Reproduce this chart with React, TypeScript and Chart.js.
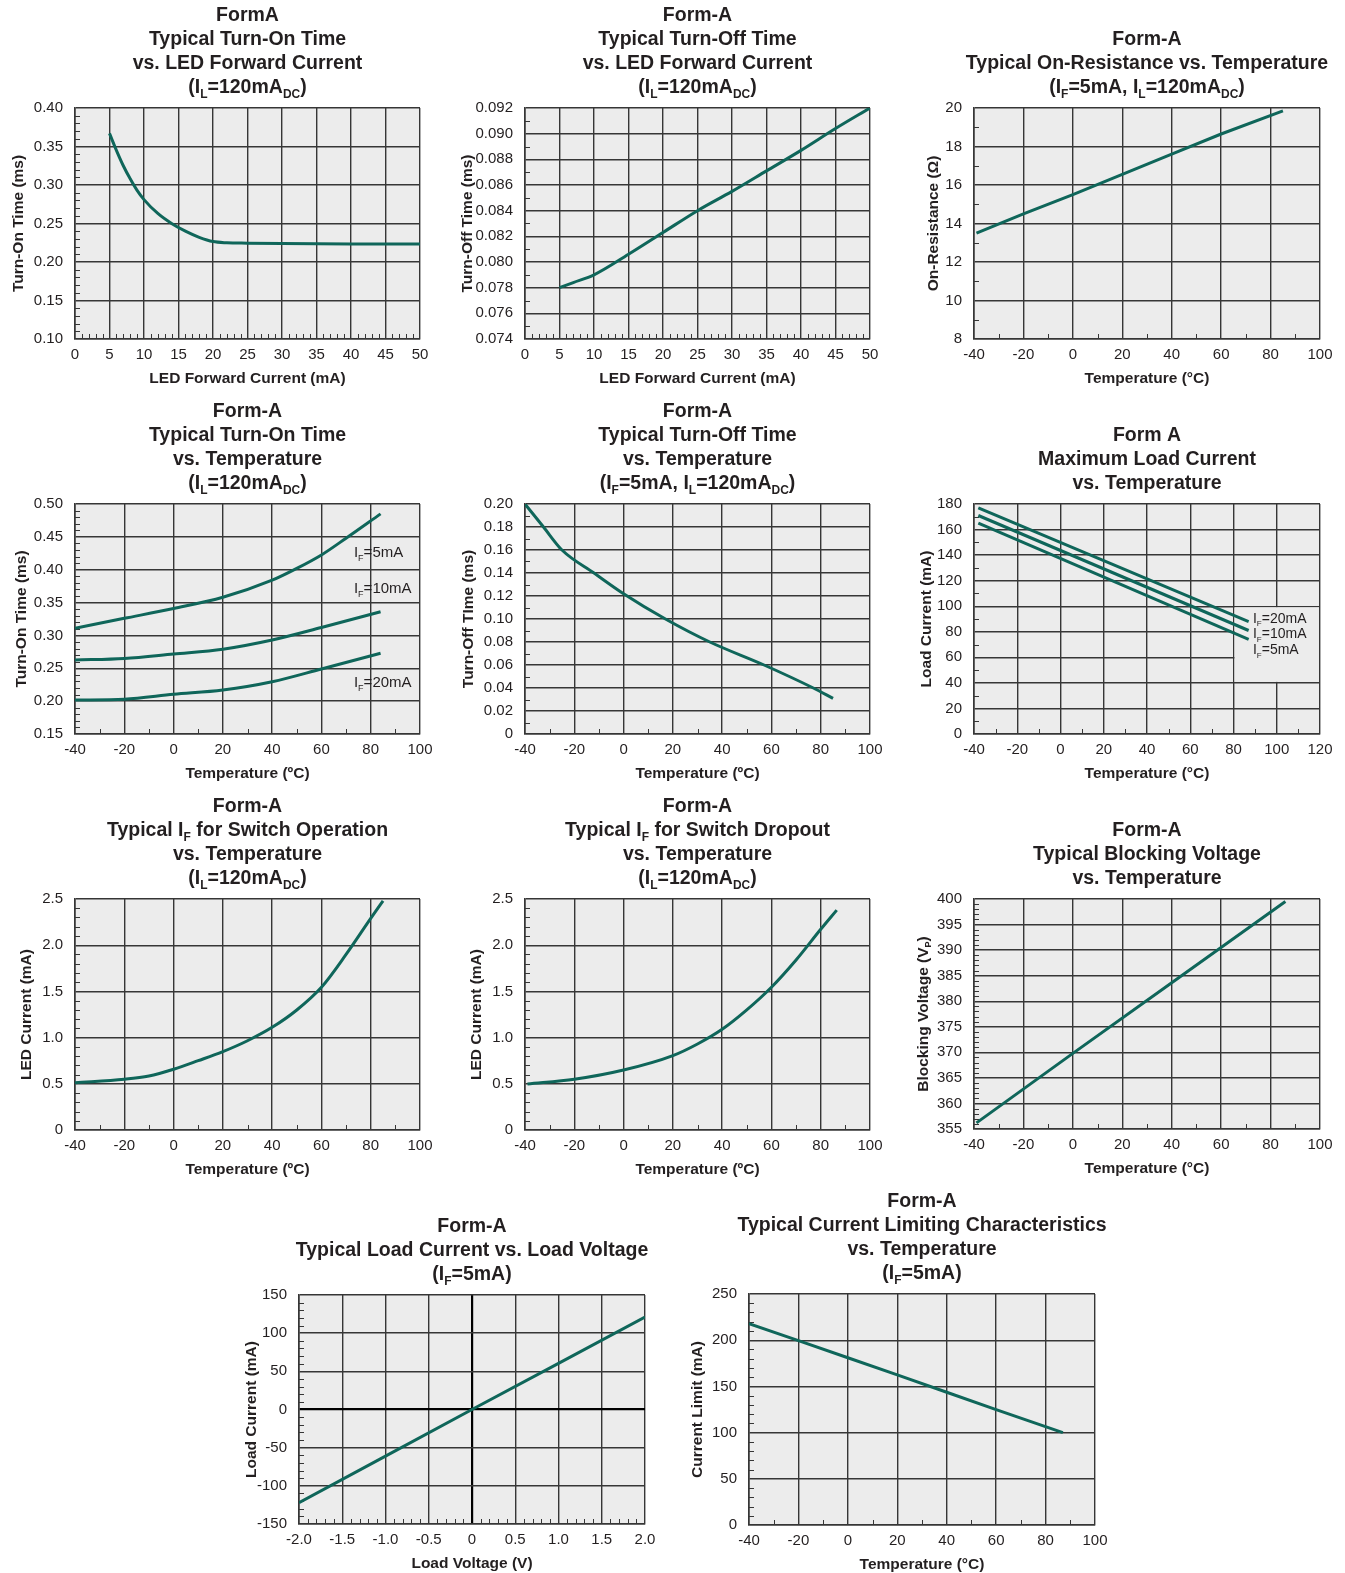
import React, { useEffect, useRef } from 'react';
import { Chart, registerables } from 'chart.js';

Chart.register(...registerables);

// ===================== DATA =====================
// 1. Turn-On Time vs LED Forward Current
const ifCurrent1_mA = [5, 6, 7, 8, 9, 10, 12, 14, 16, 18, 20, 22, 25, 30, 35, 40, 45, 50];
const turnOnVsIf_ms = [0.367, 0.345, 0.325, 0.308, 0.293, 0.281, 0.263, 0.25, 0.24, 0.232, 0.2265, 0.225, 0.2245, 0.224, 0.2237, 0.2235, 0.2234, 0.2233];
const c1XTicks = ['0', '5', '10', '15', '20', '25', '30', '35', '40', '45', '50'];
const c1YTicks = ['0.10', '0.15', '0.20', '0.25', '0.30', '0.35', '0.40'];

// 2. Turn-Off Time vs LED Forward Current
const ifCurrent2_mA = [5, 7, 10, 15, 20, 25, 30, 35, 40, 45, 50];
const turnOffVsIf_ms = [0.078, 0.0784, 0.079, 0.0806, 0.0823, 0.084, 0.0855, 0.0871, 0.0887, 0.0904, 0.092];
const c2XTicks = ['0', '5', '10', '15', '20', '25', '30', '35', '40', '45', '50'];
const c2YTicks = ['0.074', '0.076', '0.078', '0.080', '0.082', '0.084', '0.086', '0.088', '0.090', '0.092'];

// 3. On-Resistance vs Temperature
const temp3_C = [-39, -20, 0, 20, 40, 60, 85];
const onResistance_ohm = [13.5, 14.5, 15.5, 16.55, 17.6, 18.65, 19.85];
const tempTicks = ['-40', '-20', '0', '20', '40', '60', '80', '100'];
const c3YTicks = ['8', '10', '12', '14', '16', '18', '20'];

// 4. Turn-On Time vs Temperature
const temp4a_C = [-40, -20, 0, 20, 40, 50, 60, 70, 84];
const turnOn_5mA = [0.311, 0.326, 0.341, 0.358, 0.384, 0.402, 0.4225, 0.448, 0.485];
const temp4b_C = [-40, -20, 0, 20, 40, 60, 84];
const turnOn_10mA = [0.2626, 0.265, 0.2718, 0.279, 0.293, 0.312, 0.336];
const turnOn_20mA = [0.2017, 0.203, 0.2104, 0.217, 0.2296, 0.249, 0.2728];
const c4YTicks = ['0.15', '0.20', '0.25', '0.30', '0.35', '0.40', '0.45', '0.50'];

// 5. Turn-Off Time vs Temperature
const temp5_C = [-40, -32.5, -25, -12, 0, 17, 35, 57, 77, 85];
const turnOffVsT_ms = [0.2, 0.18, 0.16, 0.14, 0.122, 0.1, 0.08, 0.06, 0.04, 0.031];
const c5YTicks = ['0', '0.02', '0.04', '0.06', '0.08', '0.10', '0.12', '0.14', '0.16', '0.18', '0.20'];

// 6. Maximum Load Current vs Temperature
const temp6_C = [-38, 87];
const maxLoad_20mA = [177, 88];
const maxLoad_10mA = [171, 81];
const maxLoad_5mA = [165, 74];
const c6XTicks = ['-40', '-20', '0', '20', '40', '60', '80', '100', '120'];
const c6YTicks = ['0', '20', '40', '60', '80', '100', '120', '140', '160', '180'];

// 7. IF for Switch Operation vs Temperature
const temp7_C = [-40, -20, -10, 0, 10, 20, 30, 40, 50, 60, 70, 80, 85];
const ifOperate_mA = [0.512, 0.549, 0.584, 0.657, 0.75, 0.848, 0.966, 1.111, 1.299, 1.545, 1.9, 2.29, 2.48];
const ledTicks = ['0', '0.5', '1.0', '1.5', '2.0', '2.5'];

// 8. IF for Switch Dropout vs Temperature
const temp8_C = [-39, -20, 0, 20, 30, 40, 50, 60, 70, 80, 86.5];
const ifDropout_mA = [0.498, 0.549, 0.649, 0.805, 0.931, 1.09, 1.3, 1.545, 1.84, 2.172, 2.38];

// 9. Blocking Voltage vs Temperature
const temp9_C = [-39, 0, 40, 86];
const blocking_V = [356.2, 369.8, 383.6, 399.5];
const c9YTicks = ['355', '360', '365', '370', '375', '380', '385', '390', '395', '400'];

// 10. Load Current vs Load Voltage
const loadVoltage_V = [-2, -1, 0, 1, 2];
const loadCurrent_mA = [-122, -61, 0, 60.5, 121];
const c10XTicks = ['-2.0', '-1.5', '-1.0', '-0.5', '0', '0.5', '1.0', '1.5', '2.0'];
const c10YTicks = ['-150', '-100', '-50', '0', '50', '100', '150'];

// 11. Current Limit vs Temperature
const temp11_C = [-40, -20, 0, 20, 40, 60, 87];
const currentLimit_mA = [218, 199.5, 181, 162.5, 143.7, 124.8, 100];
const c11YTicks = ['0', '50', '100', '150', '200', '250'];

// ===================== STYLE =====================
const INK = '#231f20';
const GRID = '#363636';
const BG = '#ececec';
const LINE = '#0f665a';
const FONT = "'Liberation Sans', Arial, Helvetica, sans-serif";
const NARROW = "'Liberation Sans Narrow', 'Arial Narrow', 'Liberation Sans', Arial, sans-serif";
const Y_SPACE = 74;
const TOP_SPACE = 108;
const RIGHT_SPACE = 28;
const X_SPACE = 50;

type Series = { x: number[]; y: number[]; smooth: boolean };
type Label = { text: string; x: number; y: number; size: number };
type Spec = {
  plot: [number, number, number, number];
  title: string[];
  xTitle: string;
  yTitle: string;
  yOff: number;
  xTicks: string[];
  yTicks: string[];
  minor: [number, number];
  series: Series[];
  labels?: Label[];
  blank?: { x0: number; y0: number; y1: number };
  zero?: boolean;
};

const SPECS: Spec[] = [
  {
    plot: [75, 108, 420, 339],
    title: ['FormA', 'Typical Turn-On Time', 'vs. LED Forward Current', '(I_{L}=120mA_{DC})'],
    xTitle: 'LED Forward Current (mA)', yTitle: 'Turn-On Time (ms)', yOff: 57.5,
    xTicks: c1XTicks, yTicks: c1YTicks, minor: [5, 5],
    series: [{ x: ifCurrent1_mA, y: turnOnVsIf_ms, smooth: true }],
  },
  {
    plot: [525, 108, 870, 339],
    title: ['Form-A', 'Typical Turn-Off Time', 'vs. LED Forward Current', '(I_{L}=120mA_{DC})'],
    xTitle: 'LED Forward Current (mA)', yTitle: 'Turn-Off Time (ms)', yOff: 59,
    xTicks: c2XTicks, yTicks: c2YTicks, minor: [5, 2],
    series: [{ x: ifCurrent2_mA, y: turnOffVsIf_ms, smooth: true }],
  },
  {
    plot: [974, 108, 1320, 339],
    title: ['Form-A', 'Typical On-Resistance vs. Temperature', '(I_{F}=5mA, I_{L}=120mA_{DC})'],
    xTitle: 'Temperature (°C)', yTitle: 'On-Resistance (Ω)', yOff: 42,
    xTicks: tempTicks, yTicks: c3YTicks, minor: [2, 2],
    series: [{ x: temp3_C, y: onResistance_ohm, smooth: false }],
  },
  {
    plot: [75, 504, 420, 734],
    title: ['Form-A', 'Typical Turn-On Time', 'vs. Temperature', '(I_{L}=120mA_{DC})'],
    xTitle: 'Temperature (ºC)', yTitle: 'Turn-On Time (ms)', yOff: 55,
    xTicks: tempTicks, yTicks: c4YTicks, minor: [2, 5],
    series: [
      { x: temp4a_C, y: turnOn_5mA, smooth: true },
      { x: temp4b_C, y: turnOn_10mA, smooth: true },
      { x: temp4b_C, y: turnOn_20mA, smooth: true },
    ],
    labels: [
      { text: 'I_{F}=5mA', x: 73.2, y: 0.4275, size: 15 },
      { text: 'I_{F}=10mA', x: 73.2, y: 0.373, size: 15 },
      { text: 'I_{F}=20mA', x: 73.2, y: 0.2296, size: 15 },
    ],
  },
  {
    plot: [525, 504, 870, 734],
    title: ['Form-A', 'Typical Turn-Off Time', 'vs. Temperature', '(I_{F}=5mA, I_{L}=120mA_{DC})'],
    xTitle: 'Temperature (ºC)', yTitle: 'Turn-Off TIme (ms)', yOff: 58,
    xTicks: tempTicks, yTicks: c5YTicks, minor: [2, 2],
    series: [{ x: temp5_C, y: turnOffVsT_ms, smooth: true }],
  },
  {
    plot: [974, 504, 1320, 734],
    title: ['Form A', 'Maximum Load Current', 'vs. Temperature'],
    xTitle: 'Temperature (°C)', yTitle: 'Load Current (mA)', yOff: 49,
    xTicks: c6XTicks, yTicks: c6YTicks, minor: [2, 2],
    series: [
      { x: temp6_C, y: maxLoad_20mA, smooth: false },
      { x: temp6_C, y: maxLoad_10mA, smooth: false },
      { x: temp6_C, y: maxLoad_5mA, smooth: false },
    ],
    labels: [
      { text: 'I_{F}=20mA', x: 89, y: 90.8, size: 14 },
      { text: 'I_{F}=10mA', x: 89, y: 79, size: 14 },
      { text: 'I_{F}=5mA', x: 89, y: 66.5, size: 14 },
    ],
    blank: { x0: 80, y0: 40, y1: 100 },
  },
  {
    plot: [75, 899, 420, 1130],
    title: ['Form-A', 'Typical I_{F} for Switch Operation', 'vs. Temperature', '(I_{L}=120mA_{DC})'],
    xTitle: 'Temperature (ºC)', yTitle: 'LED Current (mA)', yOff: 50,
    xTicks: tempTicks, yTicks: ledTicks, minor: [2, 5],
    series: [{ x: temp7_C, y: ifOperate_mA, smooth: true }],
  },
  {
    plot: [525, 899, 870, 1130],
    title: ['Form-A', 'Typical I_{F} for Switch Dropout', 'vs. Temperature', '(I_{L}=120mA_{DC})'],
    xTitle: 'Temperature (ºC)', yTitle: 'LED Current (mA)', yOff: 50,
    xTicks: tempTicks, yTicks: ledTicks, minor: [2, 5],
    series: [{ x: temp8_C, y: ifDropout_mA, smooth: true }],
  },
  {
    plot: [974, 899, 1320, 1129],
    title: ['Form-A', 'Typical Blocking Voltage', 'vs. Temperature'],
    xTitle: 'Temperature (°C)', yTitle: 'Blocking Voltage (V_{P})', yOff: 52,
    xTicks: tempTicks, yTicks: c9YTicks, minor: [2, 5],
    series: [{ x: temp9_C, y: blocking_V, smooth: false }],
  },
  {
    plot: [299, 1295, 645, 1524],
    title: ['Form-A', 'Typical Load Current vs. Load Voltage', '(I_{F}=5mA)'],
    xTitle: 'Load Voltage (V)', yTitle: 'Load Current (mA)', yOff: 49,
    xTicks: c10XTicks, yTicks: c10YTicks, minor: [5, 5],
    series: [{ x: loadVoltage_V, y: loadCurrent_mA, smooth: false }],
    zero: true,
  },
  {
    plot: [749, 1294, 1095, 1525],
    title: ['Form-A', 'Typical Current Limiting Characteristics', 'vs. Temperature', '(I_{F}=5mA)'],
    xTitle: 'Temperature (°C)', yTitle: 'Current Limit (mA)', yOff: 53,
    xTicks: tempTicks, yTicks: c11YTicks, minor: [2, 5],
    series: [{ x: temp11_C, y: currentLimit_mA, smooth: false }],
  },
];

// ===================== DRAWING HELPERS =====================
function parseRich(s: string) {
  const segs: { t: string; sub: boolean }[] = [];
  const re = /_\{([^}]*)\}/g;
  let last = 0;
  let m: RegExpExecArray | null;
  while ((m = re.exec(s))) {
    if (m.index > last) segs.push({ t: s.slice(last, m.index), sub: false });
    segs.push({ t: m[1], sub: true });
    last = re.lastIndex;
  }
  if (last < s.length) segs.push({ t: s.slice(last), sub: false });
  return segs;
}

function drawRich(ctx: CanvasRenderingContext2D, s: string, x: number, cy: number, size: number, weight: string, align: string, family: string) {
  const segs = parseRich(s);
  const subSize = Math.round(size * 0.6);
  const mainFont = `${weight} ${size}px ${family}`;
  const subFont = `${weight} ${subSize}px ${family}`;
  let w = 0;
  const widths = segs.map((g) => {
    ctx.font = g.sub ? subFont : mainFont;
    const mw = ctx.measureText(g.t).width;
    w += mw;
    return mw;
  });
  let sx = align === 'center' ? x - w / 2 : align === 'right' ? x - w : x;
  const base = cy + 0.358 * size;
  ctx.textAlign = 'left';
  ctx.textBaseline = 'alphabetic';
  ctx.fillStyle = INK;
  segs.forEach((g, i) => {
    ctx.font = g.sub ? subFont : mainFont;
    ctx.fillText(g.t, sx, g.sub ? base + size * 0.25 : base);
    sx += widths[i];
  });
}

function decorPlugin(spec: Spec) {
  return {
    id: 'decor',
    beforeDraw(chart: any) {
      const { ctx, chartArea: a } = chart;
      ctx.save();
      ctx.fillStyle = '#ffffff';
      ctx.fillRect(0, 0, chart.width, chart.height);
      ctx.fillStyle = BG;
      ctx.fillRect(a.left, a.top, a.right - a.left, a.bottom - a.top);
      ctx.restore();
    },
    beforeDatasetsDraw(chart: any) {
      const { ctx, chartArea: a, scales } = chart;
      const xs = scales.x;
      const ys = scales.y;
      ctx.save();
      if (spec.blank) {
        const x0 = xs.getPixelForValue(spec.blank.x0) + 1;
        const yT = ys.getPixelForValue(spec.blank.y1) + 1;
        const yB = ys.getPixelForValue(spec.blank.y0) - 1;
        ctx.fillStyle = BG;
        ctx.fillRect(x0, yT, a.right - 1 - x0, yB - yT);
      }
      ctx.strokeStyle = GRID;
      ctx.lineWidth = 1;
      ctx.beginPath();
      const LEN = 5;
      const xv = spec.xTicks.map(Number);
      const [xSub, ySub] = spec.minor;
      for (let i = 0; i < xv.length - 1; i++) {
        for (let k = 1; k < xSub; k++) {
          const v = xv[i] + ((xv[i + 1] - xv[i]) * k) / xSub;
          const px = Math.round(xs.getPixelForValue(v)) + 0.5;
          ctx.moveTo(px, a.bottom);
          ctx.lineTo(px, a.bottom - LEN);
        }
      }
      const yv = spec.yTicks.map(Number);
      for (let i = 0; i < yv.length - 1; i++) {
        for (let k = 1; k < ySub; k++) {
          const v = yv[i] + ((yv[i + 1] - yv[i]) * k) / ySub;
          const py = Math.round(ys.getPixelForValue(v)) + 0.5;
          ctx.moveTo(a.left, py);
          ctx.lineTo(a.left + LEN, py);
        }
      }
      ctx.stroke();
      ctx.restore();
    },
    afterDraw(chart: any) {
      const { ctx, chartArea: a, scales } = chart;
      ctx.save();
      const cx = (a.left + a.right) / 2;
      const n = spec.title.length;
      spec.title.forEach((line, i) => {
        drawRich(ctx, line, cx, a.top - 22 - (n - 1 - i) * 24, 19.5, 'bold', 'center', FONT);
      });
      drawRich(ctx, spec.xTitle, cx, a.bottom + 38, 15.5, 'bold', 'center', FONT);
      ctx.save();
      ctx.translate(a.left - spec.yOff, (a.top + a.bottom) / 2);
      ctx.rotate(-Math.PI / 2);
      drawRich(ctx, spec.yTitle, 0, 0, 15.5, 'bold', 'center', FONT);
      ctx.restore();
      (spec.labels || []).forEach((l) => {
        drawRich(ctx, l.text, scales.x.getPixelForValue(l.x), scales.y.getPixelForValue(l.y), l.size, 'normal', 'left', NARROW);
      });
      ctx.restore();
    },
  };
}

function axis(labels: string[], isX: boolean, zero: boolean) {
  const vals = labels.map(Number);
  const isZero = (c: any) => zero && c.tick && Math.abs(c.tick.value) < 1e-9;
  return {
    type: 'linear',
    position: isX ? 'bottom' : 'left',
    min: vals[0],
    max: vals[vals.length - 1],
    afterBuildTicks: (sc: any) => {
      sc.ticks = vals.map((v) => ({ value: v }));
    },
    afterFit: (sc: any) => {
      if (isX) sc.height = X_SPACE;
      else sc.width = Y_SPACE;
    },
    ticks: {
      autoSkip: false,
      maxRotation: 0,
      minRotation: 0,
      padding: isX ? 7 : 12,
      color: INK,
      font: { family: FONT, size: 15 },
      callback: (v: number) => {
        const i = vals.findIndex((u) => Math.abs(u - v) < 1e-9);
        return i >= 0 ? labels[i] : '';
      },
    },
    grid: {
      drawTicks: false,
      color: (c: any) => (isZero(c) ? '#000000' : GRID),
      lineWidth: (c: any) => (isZero(c) ? 2.2 : 1.4),
    },
    border: { display: true, color: GRID, width: 1.6 },
  };
}

function buildConfig(spec: Spec): any {
  return {
    type: 'line',
    data: {
      datasets: spec.series.map((s) => ({
        data: s.x.map((x, i) => ({ x, y: s.y[i] })),
        borderColor: LINE,
        borderWidth: 3,
        pointRadius: 0,
        fill: false,
        tension: s.smooth ? 0.4 : 0,
        cubicInterpolationMode: s.smooth ? 'monotone' : 'default',
        borderCapStyle: 'butt',
        borderJoinStyle: 'round',
      })),
    },
    options: {
      animation: false,
      responsive: false,
      events: [],
      layout: { padding: { left: 0, top: TOP_SPACE, right: RIGHT_SPACE, bottom: 0 } },
      plugins: {
        legend: { display: false },
        tooltip: { enabled: false },
        title: { display: false },
      },
      scales: {
        x: axis(spec.xTicks, true, !!spec.zero),
        y: axis(spec.yTicks, false, !!spec.zero),
      },
    },
    plugins: [decorPlugin(spec)],
  };
}

function ChartBox({ spec }: { spec: Spec }) {
  const ref = useRef<HTMLCanvasElement>(null);
  const [l, t, r, b] = spec.plot;
  const w = r - l + Y_SPACE + RIGHT_SPACE;
  const h = b - t + TOP_SPACE + X_SPACE;
  useEffect(() => {
    const chart = new Chart(ref.current as HTMLCanvasElement, buildConfig(spec));
    return () => chart.destroy();
  }, [spec]);
  return (
    <canvas
      ref={ref}
      width={w}
      height={h}
      style={{ position: 'absolute', left: l - Y_SPACE, top: t - TOP_SPACE, width: w, height: h }}
    />
  );
}

export default function App() {
  return (
    <div style={{ position: 'absolute', left: 0, top: 0, width: 1345, height: 1573, overflow: 'hidden', background: '#ffffff' }}>
      {SPECS.map((s, i) => (
        <ChartBox key={i} spec={s} />
      ))}
    </div>
  );
}
